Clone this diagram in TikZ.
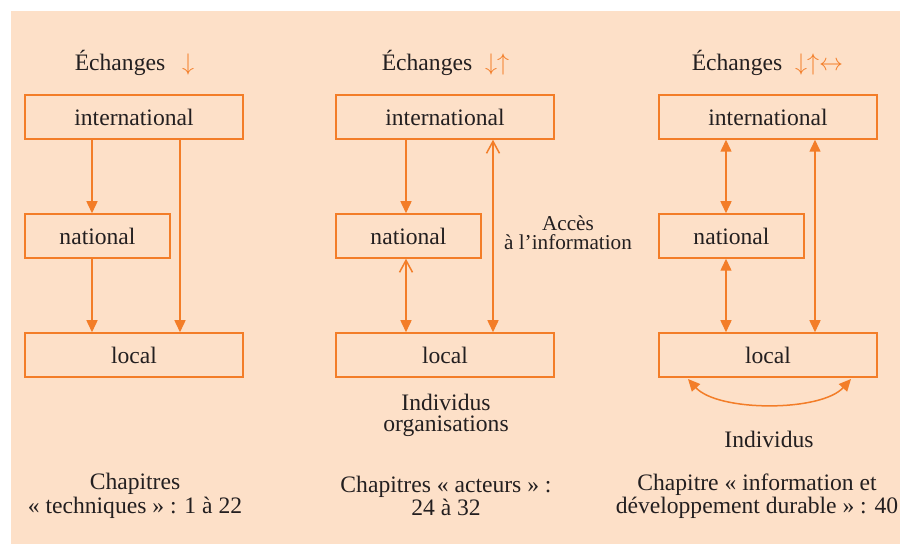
\documentclass[tikz,border=0pt]{standalone}
\usepackage{fontspec}
\setmainfont{Liberation Serif}
\usetikzlibrary{arrows.meta}
\definecolor{peach}{RGB}{253,224,200}
\definecolor{orng}{RGB}{243,125,40}
\definecolor{ink}{RGB}{35,31,32}
\tikzset{
  tipF/.tip={Triangle[length=6pt,width=5.5pt]},
  tipO/.tip={Straight Barb[length=6pt,width=6.5pt,line width=0.75pt]}
}
\begin{document}
\begin{tikzpicture}[x=0.5pt,y=-0.5pt,
  box/.style={draw=orng,line width=0.75pt,inner sep=0pt,minimum height=22pt,text=ink,font=\fontsize{11.8}{14}\selectfont},
  widebox/.style={box,minimum width=109pt},
  narrowbox/.style={box,minimum width=72.5pt},
  lbl/.style={text=ink,font=\fontsize{11.8}{10.5}\selectfont,align=center,inner sep=0pt},
  smalllbl/.style={text=ink,font=\fontsize{10.6}{9.6}\selectfont,align=center,inner sep=0pt},
  arrs/.style={text=orng,font=\fontsize{11.8}{14}\selectfont,inner sep=0pt},
  conn/.style={draw=orng,line width=0.75pt}
]
\useasboundingbox (0,0) rectangle (900,544);
\fill[peach] (11,11) rectangle (900,544);

% titles
\node[lbl,anchor=base] (t1) at (120,71) {Échanges};
\node[arrs,anchor=base] (a1) at (188,71) {$\downarrow$};
\node[lbl,anchor=base] (t2) at (427,71) {Échanges};
\node[arrs,anchor=base] (a2) at (497,71) {$\downarrow\uparrow$};
\node[lbl,anchor=base] (t3) at (737,71) {Échanges};
\node[arrs,anchor=base] (a3) at (819,71) {$\downarrow\uparrow\leftrightarrow$};

% boxes
\node[widebox] (i1) at (134,117) {international};
\node[narrowbox] (n1) at (97.5,236) {national};
\node[widebox] (l1) at (134,355) {local};
\node[widebox] (i2) at (445,117) {international};
\node[narrowbox] (n2) at (408.5,236) {national};
\node[widebox] (l2) at (445,355) {local};
\node[widebox] (i3) at (768,117) {international};
\node[narrowbox] (n3) at (731.5,236) {national};
\node[widebox] (l3) at (768,355) {local};

% guide coordinates
\coordinate (c1a) at (92,0);
\coordinate (c1b) at (180,0);
\coordinate (c2a) at (406,0);
\coordinate (c2b) at (493,0);
\coordinate (c3a) at (726,0);
\coordinate (c3b) at (815,0);

% column 1
\draw[conn,-tipF] (i1.south -| c1a) -- (n1.north -| c1a);
\draw[conn,-tipF] (n1.south -| c1a) -- (l1.north -| c1a);
\draw[conn,-tipF] (i1.south -| c1b) -- (l1.north -| c1b);
% column 2
\draw[conn,-tipF] (i2.south -| c2a) -- (n2.north -| c2a);
\draw[conn,tipO-tipF] (n2.south -| c2a) -- (l2.north -| c2a);
\draw[conn,tipO-tipF] (i2.south -| c2b) -- (l2.north -| c2b);
% column 3
\draw[conn,tipF-tipF] (i3.south -| c3a) -- (n3.north -| c3a);
\draw[conn,tipF-tipF] (n3.south -| c3a) -- (l3.north -| c3a);
\draw[conn,tipF-tipF] (i3.south -| c3b) -- (l3.north -| c3b);
\coordinate (cl) at (688,379);
\coordinate (cr) at (851,379);
\draw[conn,tipF-tipF] (cl) .. controls (718,412) and (821,412) .. (cr);

% labels
\node[smalllbl] (acc) at (568,232.5) {Accès\\à l’information};
\node[lbl] (ind2) at (446,415) {Individus\\organisations};
\node[lbl] (ind3) at (769,439) {Individus};
\node[lbl] (ch1) at (135,496) {Chapitres\\«~techniques~»~: 1 à 22};
\node[lbl] (ch2) at (446,496) {Chapitres «~acteurs~»~:\\24 à 32};
\node[lbl] (ch3) at (757,496) {Chapitre «~information et\\développement durable~»~: 40};
\end{tikzpicture}
\end{document}
